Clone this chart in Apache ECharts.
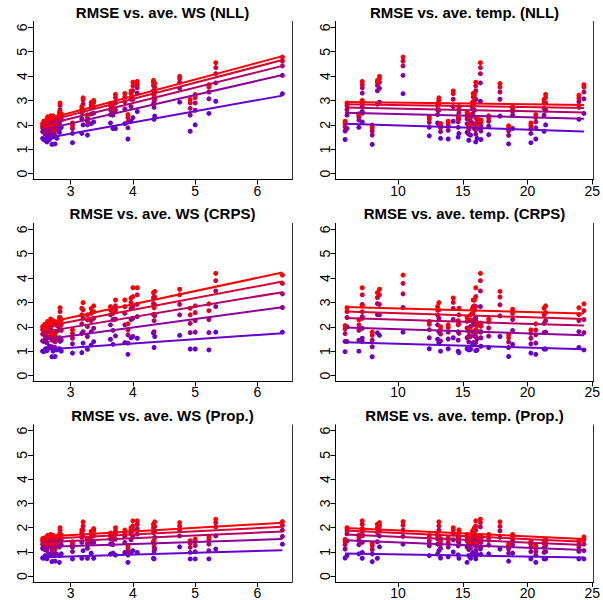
<!DOCTYPE html>
<html><head><meta charset="utf-8">
<script src="https://cdn.jsdelivr.net/npm/echarts@6/dist/echarts.min.js"></script>
<style>html,body{margin:0;padding:0;background:#fff}#c{width:603px;height:600px}</style>
</head><body><div id="c"></div>
<script>
// ---- data: one entry per station ----
const ws   = [2.55,2.57,2.59,2.60,2.62,2.63,2.66,2.68,2.70,2.72,2.75,2.78,2.82,2.83,2.85,3.03,3.18,3.20,3.27,3.33,3.37,3.64,3.68,3.72,3.87,3.92,3.97,4.00,4.07,4.33,4.34,4.35,4.75,4.92,5.00,5.22,5.33,6.40];
const temp = [13.28,5.90,15.46,13.87,16.00,12.41,16.40,17.00,8.00,14.64,18.54,16.10,15.33,6.05,6.97,20.26,14.70,13.15,15.60,15.75,7.23,13.05,18.85,15.90,15.80,20.64,14.26,16.00,7.23,8.40,23.97,17.87,8.56,21.28,21.40,24.36,16.36,10.38];

const nll1 = [1.45,1.40,1.37,1.42,1.30,1.55,1.40,1.60,1.20,1.50,1.22,1.45,1.69,1.85,1.90,1.27,1.65,2.00,1.58,2.05,2.12,2.08,1.85,1.85,2.05,1.42,2.15,2.30,2.55,2.85,2.23,2.36,2.93,1.74,2.00,2.47,2.97,3.28];
const nll2 = [1.72,1.75,1.62,1.78,1.62,1.90,1.75,1.95,1.58,1.90,1.57,1.85,2.05,2.40,2.20,1.65,2.25,2.60,2.00,2.45,2.48,2.42,2.40,2.60,2.65,1.88,2.75,3.05,3.30,3.40,2.72,3.05,3.50,2.40,2.60,3.07,3.72,4.03];
const nll3 = [1.88,1.92,1.80,1.95,1.80,2.10,1.95,2.15,1.75,2.12,1.75,2.05,2.25,2.62,2.32,1.85,2.50,2.85,2.15,2.70,2.75,2.62,2.55,2.90,2.95,2.12,3.05,3.40,3.52,3.62,2.95,3.35,3.75,2.68,2.90,3.35,4.10,4.42];
const nll4 = [1.97,2.05,1.90,2.06,1.91,2.24,2.10,2.28,1.88,2.27,1.86,2.20,2.40,2.80,2.40,1.97,2.65,3.02,2.30,2.82,2.92,2.78,2.65,3.12,3.15,2.30,3.28,3.60,3.65,3.75,3.10,3.55,3.90,2.90,3.12,3.55,4.35,4.62];
const nll5 = [2.06,2.15,1.99,2.15,1.99,2.33,2.20,2.37,1.99,2.37,1.96,2.30,2.51,2.90,2.46,2.08,2.75,3.11,2.41,2.92,3.00,2.88,2.74,3.25,3.29,2.42,3.39,3.75,3.78,3.82,3.22,3.70,3.99,3.04,3.25,3.65,4.55,4.78];

const crps1 = [1.00,0.98,1.05,1.10,1.02,1.10,1.20,1.15,0.77,1.00,0.78,1.05,1.10,1.40,1.00,0.92,0.94,1.33,1.08,1.25,1.39,1.49,1.28,1.63,1.35,0.87,1.55,1.60,1.53,1.75,1.15,1.60,1.65,1.09,1.09,1.05,1.78,1.78];
const crps2 = [1.42,1.40,1.38,1.50,1.35,1.55,1.55,1.62,1.18,1.45,1.15,1.50,1.55,2.00,1.45,1.30,1.73,1.80,1.60,1.80,1.94,2.08,1.85,2.31,2.08,1.33,2.30,2.35,2.42,2.50,1.80,2.45,2.49,1.76,1.78,1.76,2.83,2.79];
const crps3 = [1.70,1.72,1.62,1.78,1.60,1.88,1.80,1.95,1.45,1.80,1.38,1.82,1.95,2.38,1.85,1.53,2.12,2.35,2.01,2.25,2.35,2.49,2.30,2.69,2.55,1.67,2.75,2.83,2.92,2.95,2.25,2.90,2.92,2.14,2.25,2.30,3.47,3.35];
const crps4 = [1.88,1.92,1.80,1.97,1.78,2.10,2.02,2.20,1.65,2.08,1.55,2.05,2.22,2.62,2.08,1.73,2.49,2.69,2.28,2.55,2.62,2.69,2.55,2.86,2.83,1.87,3.00,3.24,3.31,3.20,2.50,3.22,3.31,2.49,2.58,2.66,3.89,3.78];
const crps5 = [2.00,2.05,1.90,2.08,1.88,2.22,2.15,2.32,1.78,2.25,1.68,2.18,2.38,2.78,2.28,1.87,2.76,2.99,2.49,2.75,2.86,2.83,2.72,3.10,3.10,2.12,3.18,3.60,3.60,3.40,2.78,3.45,3.54,2.76,2.86,2.94,4.19,4.12];

const prop1 = [0.75,0.75,0.85,0.80,0.72,0.85,0.90,0.92,0.60,0.88,0.62,0.90,0.57,0.85,0.92,0.71,0.74,1.05,0.74,0.95,0.74,0.91,0.95,0.87,0.98,0.57,1.00,1.05,0.98,0.74,0.71,1.12,1.21,0.71,0.71,0.71,1.12,1.32];
const prop2 = [1.15,1.12,1.10,1.20,1.05,1.25,1.22,1.28,0.92,1.25,0.95,1.25,1.20,1.45,1.30,1.01,1.39,1.64,1.15,1.40,1.39,1.32,1.30,1.53,1.39,0.87,1.50,1.64,1.73,1.42,1.02,1.60,1.66,0.98,1.01,1.05,1.66,1.64];
const prop3 = [1.32,1.30,1.25,1.38,1.22,1.45,1.40,1.48,1.10,1.45,1.12,1.42,1.45,1.75,1.48,1.19,1.60,1.90,1.35,1.62,1.66,1.53,1.50,1.73,1.64,1.02,1.75,1.90,1.96,1.80,1.20,1.87,1.90,1.19,1.26,1.32,2.03,1.90];
const prop4 = [1.45,1.42,1.35,1.50,1.33,1.58,1.55,1.62,1.25,1.60,1.25,1.55,1.62,1.90,1.62,1.32,1.80,2.07,1.48,1.75,1.87,1.66,1.62,1.87,1.80,1.16,1.90,2.07,2.14,2.00,1.33,2.05,2.07,1.36,1.42,1.50,2.21,2.10];
const prop5 = [1.55,1.52,1.42,1.58,1.40,1.68,1.65,1.72,1.35,1.68,1.32,1.63,1.72,2.00,1.70,1.42,1.91,2.24,1.56,1.85,1.96,1.78,1.72,2.00,1.90,1.26,2.00,2.28,2.28,2.14,1.46,2.24,2.21,1.46,1.53,1.62,2.35,2.25];

const panelTitles = ['RMSE vs. ave. WS (NLL)','RMSE vs. ave. temp. (NLL)','RMSE vs. ave. WS (CRPS)','RMSE vs. ave. temp. (CRPS)','RMSE vs. ave. WS (Prop.)','RMSE vs. ave. temp. (Prop.)'];
const wsTicks = [3,4,5,6];
const tempTicks = [10,15,20,25];
const yTicks = [0,1,2,3,4,5,6];
const colors = ['#6600CC','#8C0099','#B30066','#D90033','#FF0000'];

// ---- layout ----
const gridLeft = [33, 335.5];
const gridWidth = [259, 258];
const gridTop = [21.5, 223.4, 424.8];
const gridHeight = 158;
const FONT = 'Liberation Sans, Arial, Helvetica, sans-serif';

const metrics = [[nll1,nll2,nll3,nll4,nll5],[crps1,crps2,crps3,crps4,crps5],[prop1,prop2,prop3,prop4,prop5]];

function fitLine(xs, ys){
  const n = xs.length;
  let mx=0,my=0; for(let i=0;i<n;i++){mx+=xs[i];my+=ys[i];} mx/=n; my/=n;
  let sxy=0,sxx=0; for(let i=0;i<n;i++){sxy+=(xs[i]-mx)*(ys[i]-my); sxx+=(xs[i]-mx)*(xs[i]-mx);}
  const b = sxy/sxx, a = my-b*mx;
  const x0 = Math.min(...xs), x1 = Math.max(...xs);
  return [[x0,a+b*x0],[x1,a+b*x1]];
}
function range(xs){
  const lo=Math.min(...xs), hi=Math.max(...xs), d=(hi-lo)*0.04;
  return [lo-d, hi+d];
}

const grids=[], xAxes=[], yAxes=[], series=[], graphics=[];
for(let r=0;r<3;r++){
  for(let c=0;c<2;c++){
    const gi = r*2+c;
    const xs = c===0 ? ws : temp;
    const ticks = c===0 ? wsTicks : tempTicks;
    const [xmin,xmax] = range(xs);
    grids.push({left:gridLeft[c], top:gridTop[r], width:gridWidth[c], height:gridHeight, containLabel:false});
    const axLine = {show:true, onZero:false, lineStyle:{color:'#000', width:1}};
    xAxes.push({gridIndex:gi, type:'value', min:xmin, max:xmax, position:'bottom',
      axisLine:axLine, splitLine:{show:false},
      axisTick:{show:true, customValues:ticks, length:5, lineStyle:{color:'#000'}},
      axisLabel:{show:true, customValues:ticks, color:'#000', fontSize:14, fontFamily:FONT, margin:4}});
    yAxes.push({gridIndex:gi, type:'value', min:-0.24, max:6.24, position:'left',
      axisLine:axLine, splitLine:{show:false},
      axisTick:{show:true, customValues:yTicks, length:5, lineStyle:{color:'#000'}},
      axisLabel:{show:true, customValues:yTicks, rotate:90, color:'#000', fontSize:14, fontFamily:FONT, margin:4}});
    yAxes.push({gridIndex:gi, type:'value', min:-0.24, max:6.24, position:'right',
      axisLine:{show:true, onZero:false, lineStyle:{color:'#333', width:1}}, splitLine:{show:false}, axisTick:{show:false}, axisLabel:{show:false}});
    const xi = gi, yi = gi*2;
    const ysets = metrics[r];
    for(let k=0;k<5;k++){
      series.push({type:'scatter', xAxisIndex:xi, yAxisIndex:yi, symbol:'circle', symbolSize:5,
        itemStyle:{color:colors[k], opacity:1}, silent:true,
        data: xs.map((x,i)=>[x, ysets[k][i]])});
    }
    for(let k=0;k<5;k++){
      series.push({type:'line', xAxisIndex:xi, yAxisIndex:yi, showSymbol:false, symbol:'none', silent:true,
        lineStyle:{color:colors[k], width:2}, data: fitLine(xs, ysets[k])});
    }
    graphics.push({type:'text', x: gridLeft[c]+gridWidth[c]/2, y: gridTop[r]-9.5,
      style:{text:panelTitles[gi], font:'bold 15px '+FONT, fill:'#000', align:'center', verticalAlign:'middle'}});
  }
}

const chart = echarts.init(document.getElementById('c'), null, {renderer:'svg', width:603, height:600});
chart.setOption({animation:false, backgroundColor:'#fff', grid:grids, xAxis:xAxes, yAxis:yAxes, series:series, graphic:graphics});
</script></body></html>
